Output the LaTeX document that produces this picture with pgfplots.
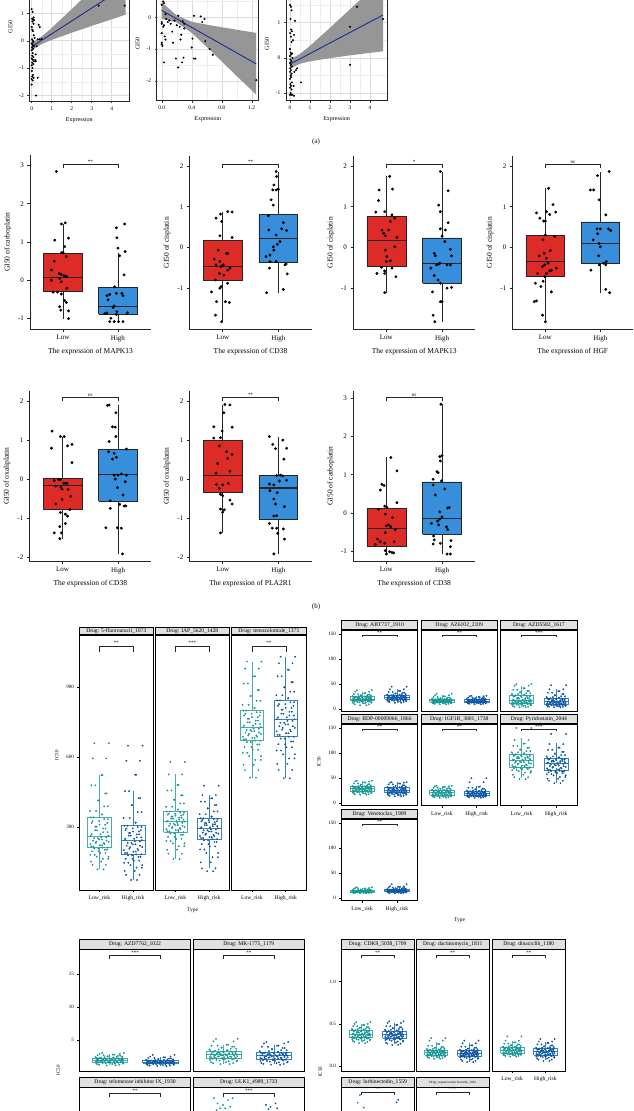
\documentclass[border=0pt]{standalone}
\usepackage{fontspec}
\setmainfont{Liberation Serif}
\usepackage{pgfplots}
\usepackage{pgfplotstable}
\pgfplotsset{compat=1.18}

\definecolor{bred}{RGB}{221,44,40}
\definecolor{bblue}{RGB}{55,142,218}
\definecolor{tealpt}{RGB}{24,152,150}
\definecolor{bluept}{RGB}{14,86,166}
\definecolor{tealbox}{RGB}{70,172,176}
\definecolor{bluebox}{RGB}{55,128,192}
\definecolor{stripbg}{RGB}{224,224,224}
\definecolor{regblue}{RGB}{25,45,150}
\definecolor{ribbon}{RGB}{150,150,150}

\pgfplotsset{
  base/.style={scale only axis, /pgf/number format/assume math mode=true, anchor=south west},
  pa/.style={base, tick align=outside, tick pos=left, major tick length=2pt,
    tick style={black!75, line width=0.4pt},
    axis line style={black!85, line width=0.7pt},
    grid=both, minor tick num=1, minor tick length=0pt,
    major grid style={black!14, line width=0.45pt}, minor grid style={black!7, line width=0.3pt},
    ticklabel style={font=\fontsize{5.5}{6}\selectfont},
    label style={font=\fontsize{6}{7}\selectfont},
    xlabel={Expression}, ylabel={GI50}},
  pb/.style={base, axis lines=left, axis line style={-, black!85, line width=0.6pt},
    xmin=0.4, xmax=2.6, xtick={1,2}, xticklabels={Low,High},
    tick align=outside, major tick length=2.5pt, tick style={black!85, line width=0.5pt},
    ticklabel style={font=\fontsize{7}{8}\selectfont},
    label style={font=\fontsize{7.5}{8.5}\selectfont},
    clip=false},
  strip/.style 2 args={every axis title/.style={at={(0.5,1)}, anchor=south, draw=black, line width=0.8pt, fill=stripbg, inner sep=0pt, minimum width=#1, minimum height=#2, font=\fontsize{5.6}{6}\selectfont}},
  fc/.style={base, xmin=0.4, xmax=2.6, xtick={1,2}, xticklabels={Low\_risk,High\_risk},
    axis line style={black, line width=0.8pt}, tick align=outside, tick pos=left,
    major tick length=2pt, tick style={black, line width=0.5pt},
    xticklabel style={font=\fontsize{5.6}{6}\selectfont},
    yticklabel style={font=\fontsize{5}{6}\selectfont},
    clip=false},
}

% box at position 1 / 2: fill, draw, lower whisker, q1, median, q3, upper whisker, median width
\newcommand{\boxA}[8]{%
  \addplot[#2, line width=0.6pt] coordinates {(1,#3)(1,#4)};
  \addplot[#2, line width=0.6pt] coordinates {(1,#6)(1,#7)};
  \addplot[fill=#1, draw=#2, line width=0.6pt] coordinates {(0.65,#4)(1.35,#4)(1.35,#6)(0.65,#6)(0.65,#4)};
  \addplot[#2, line width=#8] coordinates {(0.65,#5)(1.35,#5)};}
\newcommand{\boxB}[8]{%
  \addplot[#2, line width=0.6pt] coordinates {(2,#3)(2,#4)};
  \addplot[#2, line width=0.6pt] coordinates {(2,#6)(2,#7)};
  \addplot[fill=#1, draw=#2, line width=0.6pt] coordinates {(1.65,#4)(2.35,#4)(2.35,#6)(1.65,#6)(1.65,#4)};
  \addplot[#2, line width=#8] coordinates {(1.65,#5)(2.35,#5)};}
% jittered cloud: colour, jitter column A, jitter column B, position, value column, table
\newcommand{\jit}[6]{%
  \addplot[only marks, mark=*, mark size=0.7pt, color=#1] table[x expr=\thisrow{#2}+#4, y=#5] {#6};
  \addplot[only marks, mark=*, mark size=0.7pt, color=#1] table[x expr=\thisrow{#3}+#4, y=#5] {#6};}
\newcommand{\brk}[4]{\addplot[black!85, line width=0.45pt] coordinates {(1,#2)(1,#1)(2,#1)(2,#2)};
  \node[font=\fontsize{#4}{#4}\selectfont, anchor=south, inner sep=0.6pt] at (axis cs:1.5,#1) {#3};}
\newcommand{\bpts}{\addplot[only marks, mark=*, mark size=1.25pt, black] coordinates}

\pgfplotstableread{
j k fuL fuH iapL iapH temL temH
0.12 -0.06 120 74 164 112 513 510
-0.21 0.19 139 96 187 124 545 546
0.05 -0.25 153 113 204 150 568 572
0.26 0.10 165 127 219 172 589 595
-0.08 0.27 174 138 231 190 605 613
-0.27 -0.14 182 148 241 205 619 629
0.18 0.02 190 157 250 218 632 643
-0.02 -0.22 197 165 259 228 644 656
0.22 0.16 204 173 268 237 655 668
-0.15 -0.03 209 180 274 244 665 680
0.09 0.24 213 184 279 249 671 688
-0.24 -0.18 218 190 283 254 677 696
0.01 0.08 223 196 288 258 683 703
0.15 -0.27 228 202 292 263 688 711
-0.11 0.13 233 208 297 268 694 718
0.27 -0.09 238 215 301 273 700 726
-0.19 0.21 243 221 306 277 706 733
0.07 -0.01 248 227 310 282 712 741
-0.05 -0.16 253 233 315 287 717 748
0.20 0.05 258 239 319 291 723 756
-0.26 0.26 263 245 324 296 729 763
0.03 -0.23 271 251 328 300 736 771
0.24 0.11 279 257 333 305 743 779
-0.13 -0.07 287 264 337 309 750 787
0.11 0.18 295 270 341 313 757 795
-0.09 -0.12 303 276 346 318 765 804
0.17 0.00 311 282 350 322 772 812
-0.23 0.23 319 288 354 326 779 820
-0.01 -0.20 327 295 358 331 786 828
0.25 0.14 335 301 363 335 793 836
-0.17 -0.26 343 307 367 339 800 844
0.08 0.07 355 320 376 346 811 853
-0.28 -0.10 370 340 388 356 825 866
0.14 0.25 390 365 402 368 842 881
-0.04 -0.04 415 395 418 381 863 900
0.21 0.17 445 425 437 395 888 922
-0.12 -0.24 480 455 458 410 916 947
0.06 0.09 524 525 482 424 947 975
-0.20 0.20 595 585 527 438 980 1003
0.28 -0.15 660 650 580 478 1010 1031
}\tabC

\pgfplotstableread{
j k abtL abtH azL azH azdL azdH bdpL bdpH igfL igfH pyrL pyrH venL venH
0.12 -0.06 8 13 10 10 4 4 17 14 11 11 48 40 10 10
-0.21 0.19 10 14.5 11 11 5 5 18 15 12 12 52 45 10.6 10.7
0.05 -0.25 12 15.5 11.8 11.8 6.5 6 19.5 16.3 13 12.8 57 49 11 11.3
0.26 0.10 13 16.4 12.4 12.4 7.7 6.8 20.5 17.3 13.7 13.4 61 52.5 11.4 11.8
-0.08 0.27 14 17.1 12.9 12.9 8.7 7.5 21.3 18.1 14.2 13.8 64 55.5 11.7 12.1
-0.27 -0.14 14.6 17.7 13.3 13.3 9.5 8 22 18.8 14.7 14.1 66 58 11.9 12.4
0.18 0.02 15.2 18.2 13.6 13.6 10.2 8.5 22.6 19.4 15 14.4 68 60 12.1 12.6
-0.02 -0.22 15.8 18.8 13.9 13.9 10.8 9 23.1 19.9 15.3 14.6 69.5 61.8 12.2 12.75
0.22 0.16 16.3 19.3 14.1 14.1 11.3 9.4 23.5 20.3 15.6 14.8 70.5 63.2 12.3 12.85
-0.15 -0.03 16.7 19.7 14.3 14.3 11.7 9.7 23.8 20.7 15.8 14.9 71.3 64.2 12.4 12.95
0.09 0.24 17 20 14.5 14.5 12 10 24 21 16 15 72 65 12.5 13
-0.24 -0.18 17.4 20.4 14.75 14.7 12.6 10.5 24.5 21.5 16.5 15.5 73.4 66.5 12.65 13.2
0.01 0.08 17.7 20.8 15 14.9 13.2 11 25 22 17 16 74.8 68 12.8 13.4
0.15 -0.27 18.1 21.2 15.25 15.1 13.8 11.5 25.5 22.5 17.5 16.5 76.2 69.5 12.95 13.6
-0.11 0.13 18.4 21.6 15.5 15.3 14.4 12 26 23 18 17 77.6 71 13.1 13.8
0.27 -0.09 18.8 22 15.75 15.5 15 12.5 26.5 23.5 18.5 17.5 79 72.5 13.25 14
-0.19 0.21 19.1 22.4 16 15.7 15.6 13 27 24 19 18 80.4 74 13.4 14.2
0.07 -0.01 19.5 22.8 16.25 15.9 16.2 13.5 27.5 24.5 19.5 18.5 81.8 75.5 13.55 14.4
-0.05 -0.16 19.8 23.2 16.5 16.1 16.8 14 28 25 20 19 83.2 77 13.7 14.6
0.20 0.05 20.2 23.6 16.75 16.3 17.4 14.5 28.5 25.5 20.5 19.5 84.6 78.5 13.85 14.8
-0.26 0.26 20.5 24 17 16.5 18 15 29 26 21 20 86 80 14 15
0.03 -0.23 21 24.4 17.3 16.8 19 15.7 29.4 26.5 21.5 20.4 87.2 81 14.15 15.25
0.24 0.11 21.4 24.8 17.6 17.1 20 16.4 29.8 27 22 20.8 88.4 82 14.3 15.5
-0.13 -0.07 21.9 25.2 17.9 17.4 21 17.1 30.2 27.5 22.5 21.2 89.6 83 14.45 15.75
0.11 0.18 22.3 25.6 18.2 17.7 22 17.8 30.6 28 23 21.6 90.8 84 14.6 16
-0.09 -0.12 22.8 26 18.5 18 23 18.5 31 28.5 23.5 22 92 85 14.75 16.25
0.17 0.00 23.2 26.4 18.8 18.3 24 19.2 31.4 29 24 22.4 93.2 86 14.9 16.5
-0.23 0.23 23.7 26.8 19.1 18.6 25 19.9 31.8 29.5 24.5 22.8 94.4 87 15.05 16.75
-0.01 -0.20 24.1 27.2 19.4 18.9 26 20.6 32.2 30 25 23.2 95.6 88 15.2 17
0.25 0.14 24.6 27.6 19.7 19.2 27 21.3 32.6 30.5 25.5 23.6 96.8 89 15.35 17.25
-0.17 -0.26 25 28 20 19.5 28 22 33 31 26 24 98 90 15.5 17.5
0.08 0.07 25.5 28.6 20.4 19.9 29 23 33.6 31.6 26.5 24.6 99.5 91.5 15.8 17.9
-0.28 -0.10 26.2 29.4 21 20.4 30.5 24.5 34.4 32.4 27.2 25.4 101.5 93.5 16.2 18.4
0.14 0.25 27 30.4 21.7 21 32 26 35.4 33.4 28 26.4 104 96 16.7 19
-0.04 -0.04 28 31.6 22.5 21.7 34 28 36.6 34.6 29 27.6 107 99 17.3 19.7
0.21 0.17 29.2 33 23.4 22.5 36.5 30.5 38 36 30 29 110.5 102.5 18 20.5
-0.12 -0.24 30.5 34.6 24.5 23.4 39 33 39.6 37.6 31.2 31 114.5 106.5 18.8 21.5
0.06 0.09 32 36.5 26 24.5 42 36 41.5 39.4 32.5 33 119 111 19.5 22.7
-0.20 0.20 35 40 28 26 47 40 43.5 41 34 42 126 118 20.5 24
0.28 -0.15 38 45 31 27 50 48 45 42 35 50 150 138 22 28
}\tabR

\pgfplotstableread{
j k a7L a7H mkL mkH
0.12 -0.06 1.15 1.05 1.35 1.25
-0.21 0.19 1.25 1.12 1.5 1.38
0.05 -0.25 1.35 1.2 1.65 1.5
0.26 0.10 1.42 1.26 1.78 1.61
-0.08 0.27 1.48 1.31 1.9 1.71
-0.27 -0.14 1.53 1.35 2.0 1.8
0.18 0.02 1.57 1.39 2.08 1.88
-0.02 -0.22 1.61 1.42 2.15 1.95
0.22 0.16 1.64 1.45 2.21 2.01
-0.15 -0.03 1.67 1.48 2.26 2.06
0.09 0.24 1.7 1.5 2.3 2.1
-0.24 -0.18 1.73 1.52 2.35 2.16
0.01 0.08 1.76 1.54 2.4 2.21
0.15 -0.27 1.79 1.56 2.45 2.27
-0.11 0.13 1.82 1.58 2.5 2.32
0.27 -0.09 1.85 1.6 2.55 2.38
-0.19 0.21 1.88 1.62 2.6 2.43
0.07 -0.01 1.91 1.64 2.65 2.49
-0.05 -0.16 1.94 1.66 2.7 2.54
0.20 0.05 1.97 1.68 2.75 2.6
-0.26 0.26 2.0 1.7 2.8 2.65
0.03 -0.23 2.03 1.72 2.86 2.7
0.24 0.11 2.06 1.74 2.91 2.74
-0.13 -0.07 2.09 1.76 2.97 2.79
0.11 0.18 2.12 1.78 3.02 2.83
-0.09 -0.12 2.15 1.8 3.08 2.88
0.17 0.00 2.18 1.82 3.13 2.92
-0.23 0.23 2.21 1.84 3.19 2.97
-0.01 -0.20 2.24 1.86 3.24 3.01
0.25 0.14 2.27 1.88 3.3 3.06
-0.17 -0.26 2.3 1.9 3.35 3.1
0.08 0.07 2.35 1.95 3.45 3.2
-0.28 -0.10 2.4 2.0 3.57 3.32
0.14 0.25 2.47 2.06 3.7 3.46
-0.04 -0.04 2.54 2.13 3.85 3.62
0.21 0.17 2.62 2.2 4.0 3.8
-0.12 -0.24 2.7 2.28 4.15 3.98
0.06 0.09 2.8 2.38 4.3 4.15
-0.20 0.20 2.9 2.5 4.8 4.5
0.28 -0.15 3.05 2.75 5.2 4.7
}\tabDL

\pgfplotstableread{
j k cdkL cdkH dacL dacH dinL dinH
0.12 -0.06 0.27 0.25 0.085 0.045 0.11 0.06
-0.21 0.19 0.285 0.265 0.095 0.06 0.12 0.075
0.05 -0.25 0.297 0.278 0.103 0.075 0.127 0.088
0.26 0.10 0.306 0.29 0.109 0.086 0.132 0.098
-0.08 0.27 0.313 0.3 0.114 0.095 0.136 0.106
-0.27 -0.14 0.319 0.308 0.118 0.102 0.139 0.112
0.18 0.02 0.324 0.314 0.121 0.107 0.142 0.117
-0.02 -0.22 0.328 0.319 0.124 0.111 0.144 0.121
0.22 0.16 0.331 0.323 0.126 0.114 0.146 0.124
-0.15 -0.03 0.334 0.327 0.128 0.117 0.148 0.127
0.09 0.24 0.336 0.33 0.13 0.12 0.15 0.13
-0.24 -0.18 0.34 0.334 0.134 0.123 0.154 0.134
0.01 0.08 0.345 0.338 0.137 0.126 0.158 0.138
0.15 -0.27 0.349 0.342 0.141 0.129 0.162 0.142
-0.11 0.13 0.354 0.346 0.144 0.132 0.166 0.146
0.27 -0.09 0.358 0.35 0.148 0.135 0.17 0.15
-0.19 0.21 0.362 0.354 0.151 0.138 0.174 0.154
0.07 -0.01 0.367 0.358 0.155 0.141 0.178 0.158
-0.05 -0.16 0.371 0.362 0.158 0.144 0.182 0.162
0.20 0.05 0.376 0.366 0.162 0.147 0.186 0.166
-0.26 0.26 0.38 0.37 0.165 0.15 0.19 0.17
0.03 -0.23 0.385 0.375 0.168 0.153 0.193 0.174
0.24 0.11 0.389 0.379 0.17 0.156 0.196 0.177
-0.13 -0.07 0.394 0.384 0.173 0.159 0.199 0.181
0.11 0.18 0.399 0.388 0.175 0.162 0.202 0.184
-0.09 -0.12 0.403 0.393 0.178 0.165 0.205 0.188
0.17 0.00 0.408 0.397 0.18 0.168 0.208 0.191
-0.23 0.23 0.413 0.402 0.183 0.171 0.211 0.195
-0.01 -0.20 0.418 0.406 0.185 0.174 0.214 0.198
0.25 0.14 0.422 0.411 0.188 0.177 0.217 0.202
-0.17 -0.26 0.427 0.415 0.19 0.18 0.22 0.205
0.08 0.07 0.432 0.421 0.195 0.185 0.225 0.21
-0.28 -0.10 0.438 0.429 0.201 0.191 0.231 0.216
0.14 0.25 0.445 0.438 0.208 0.198 0.238 0.223
-0.04 -0.04 0.453 0.448 0.216 0.206 0.246 0.232
0.21 0.17 0.462 0.459 0.226 0.216 0.255 0.243
-0.12 -0.24 0.472 0.472 0.24 0.228 0.266 0.256
0.06 0.09 0.485 0.488 0.26 0.245 0.28 0.272
-0.20 0.20 0.5 0.51 0.3 0.27 0.3 0.29
0.28 -0.15 0.52 0.53 0.33 0.3 0.35 0.32
}\tabDR

\begin{document}
\begin{tikzpicture}
\useasboundingbox (0,0) rectangle (633pt,-1111pt);
\clip (0,0) rectangle (633pt,-1111pt);
\fill[white] (0,0) rectangle (633pt,-1111pt);

% ================= (a) =================
\begin{axis}[pa, at={(29.3pt,-101pt)}, width=100pt, height=148pt, xmin=-0.12, xmax=4.88, ymin=-2.2, ymax=3.2, xtick={0,1,2,3,4}, ytick={-2,-1,0,1,2,3}, yticklabels={-2,-1,0,1,{},{}}]
\addplot[fill=ribbon, draw=none] coordinates {(0,-0.35)(0.5,-0.12)(1,0.03)(2,0.29)(3,0.54)(4,0.78)(4.7,0.95)(4.7,3.03)(4,2.54)(3,1.85)(2,1.15)(1,0.47)(0.5,0.15)(0,-0.09)};
\addplot[only marks, mark=*, mark size=0.8pt, black] coordinates {(0.0,1.15)(0.05,1.05)(0.1,0.85)(0.02,0.8)(0.07,0.78)(0.12,0.75)(0.04,0.7)(0.09,0.62)(0.0,0.5)(0.03,0.4)(0.06,0.35)(0.1,0.2)(0.02,0.05)(0.05,0.0)(0.08,-0.05)(0.0,-0.1)(0.04,-0.15)(0.11,-0.2)(0.02,-0.25)(0.07,-0.3)(0.0,-0.35)(0.05,-0.45)(0.03,-0.55)(0.09,-0.6)(0.0,-0.65)(0.06,-0.7)(0.12,-0.75)(0.02,-0.8)(0.08,-0.85)(0.0,-0.9)(0.04,-1.0)(0.01,-1.1)(0.06,-1.25)(0.03,-1.3)(0.09,-1.35)(0.0,-1.4)(0.05,-1.45)(0.0,-1.6)(0.22,-2.0)(0.35,0.58)(0.4,0.5)(0.3,0.05)(0.4,0.05)(0.5,0.07)(0.3,-1.35)(0.2,-0.5)(0.25,-0.2)(0.15,0.1)(0.18,-0.7)(0.2,-0.75)(3.35,1.28)(4.65,1.28)};
\addplot[regblue, line width=0.9pt] coordinates {(0,-0.22)(4.7,1.99)};
\end{axis}

\begin{axis}[pa, at={(156.7pt,-100.7pt)}, width=102pt, height=115pt, xmin=-0.067, xmax=1.293, ymin=-2.63, ymax=1.0, xtick={0,0.4,0.8,1.2}, ytick={-2,-1,0,1}, yticklabels={-2,-1,0,{}}, xticklabel style={/pgf/number format/.cd, fixed, fixed zerofill, precision=1}]
\addplot[fill=ribbon, draw=none] coordinates {(0,-0.04)(0.2,-0.16)(0.4,-0.49)(0.6,-0.93)(0.8,-1.39)(1.0,-1.85)(1.26,-2.44)(1.26,-0.49)(1.0,-0.39)(0.8,-0.31)(0.6,-0.23)(0.4,-0.14)(0.2,0.06)(0,0.48)};
\addplot[only marks, mark=*, mark size=0.8pt, black] coordinates {(0.0,0.4)(0.02,0.5)(0.03,0.45)(0.0,-0.15)(0.0,-0.2)(0.0,-0.5)(0.0,-0.8)(0.0,-0.85)(0.01,-0.9)(0.02,-0.3)(0.03,-0.25)(0.04,-0.6)(0.05,-0.7)(0.03,-1.42)(0.05,0.1)(0.06,-0.05)(0.08,-0.15)(0.1,-0.1)(0.12,-0.2)(0.14,-0.45)(0.15,-0.8)(0.17,-0.1)(0.2,-0.25)(0.22,0.05)(0.24,-0.3)(0.25,-0.7)(0.26,-0.55)(0.28,-0.12)(0.3,-0.2)(0.3,-0.35)(0.19,-1.3)(0.22,-1.58)(0.27,-1.42)(0.29,-1.27)(0.4,-0.95)(0.41,-0.67)(0.43,0.05)(0.43,-1.3)(0.45,-1.3)(0.52,0.03)(0.54,-0.15)(0.57,-0.05)(0.58,-0.75)(0.64,-1.0)(0.68,-1.18)(1.26,-1.98)};
\addplot[regblue, line width=0.9pt] coordinates {(0,0.22)(1.26,-1.468)};
\end{axis}

\begin{axis}[pa, at={(286pt,-100.7pt)}, width=101.3pt, height=113.3pt, xmin=-0.2, xmax=4.865, ymin=-1.22, ymax=2.0, xtick={0,1,2,3,4}, ytick={-1,0,1,2}, yticklabels={-1,0,1,{}}]
\addplot[fill=ribbon, draw=none] coordinates {(0,-0.31)(0.5,-0.17)(1,-0.10)(2,-0.01)(3,0.07)(4,0.14)(4.65,0.185)(4.65,2.25)(4,1.90)(3,1.38)(2,0.85)(1,0.34)(0.5,0.11)(0,-0.05)};
\addplot[only marks, mark=*, mark size=0.8pt, black] coordinates {(0.0,1.5)(0.05,1.45)(0.08,1.35)(0.02,1.1)(0.06,0.8)(0.1,0.75)(0.0,0.7)(0.04,0.6)(0.08,0.45)(0.0,0.25)(0.03,0.15)(0.1,0.12)(0.06,0.1)(0.0,0.05)(0.12,0.0)(0.02,-0.05)(0.07,-0.1)(0.0,-0.15)(0.04,-0.2)(0.09,-0.25)(0.01,-0.3)(0.05,-0.35)(0.0,-0.4)(0.08,-0.45)(0.03,-0.5)(0.06,-0.55)(0.0,-0.6)(0.1,-0.7)(0.02,-0.75)(0.05,-0.8)(0.0,-0.85)(0.08,-0.9)(0.03,-1.0)(0.0,-1.05)(0.06,-1.05)(0.1,-1.05)(0.25,1.05)(0.2,0.65)(0.15,0.5)(0.22,-0.4)(0.3,-0.35)(0.35,-0.3)(0.55,-0.7)(0.18,-0.8)(0.2,-1.08)(3.0,0.88)(3.0,-0.2)(3.35,1.45)(4.65,1.1)};
\addplot[regblue, line width=0.9pt] coordinates {(0,-0.18)(4.65,1.215)};
\end{axis}

\node[font=\fontsize{7}{8}\selectfont] at (316pt,-142pt) {(a)};

% ================= (b) row 1 =================
\begin{axis}[pb, at={(30pt,-329.3pt)}, width=121pt, height=174.2pt, ymin=-1.28, ymax=3.27, ytick={-1,0,1,2,3}, ylabel={GI50 of carboplatin}, xlabel={The expression of MAPK13}]
\boxA{bred}{black!85}{-1.0}{-0.3}{0.08}{0.71}{1.47}{1.3pt}
\boxB{bblue}{black!85}{-1.08}{-0.88}{-0.68}{-0.18}{0.7}{1.3pt}
\bpts {(0.88,2.84)(1.04,1.5)(0.97,1.47)(1.10,1.10)(0.85,1.05)(1.03,0.88)(0.97,0.72)(1.0,0.72)(1.06,0.62)(0.84,0.5)(0.79,0.27)(0.93,0.18)(0.97,0.15)(1.02,0.12)(1.06,0.1)(0.94,0.05)(0.97,-0.04)(1.07,-0.21)(0.79,0.0)(0.82,-0.31)(0.9,-0.31)(0.97,-0.36)(1.03,-0.53)(1.06,-0.58)(0.94,-0.69)(0.96,-0.78)(1.1,-0.8)(1.1,-1.0)};
\bpts {(2.12,1.47)(1.97,1.37)(1.98,1.11)(2.0,0.84)(2.13,0.75)(2.03,0.64)(2.11,0.14)(1.94,-0.17)(1.97,-0.34)(2.07,-0.34)(1.8,-0.4)(2.09,-0.4)(1.85,-0.37)(1.93,-0.67)(1.91,-0.71)(1.8,-0.85)(2.17,-0.85)(1.97,-0.89)(1.87,-0.99)(1.93,-1.08)(2.01,-1.08)(1.85,-1.08)(2.09,-1.08)(1.76,-0.87)(1.82,-0.51)(1.98,-0.82)};
\brk{3.03}{2.93}{**}{5}
\end{axis}

\begin{axis}[pb, at={(189.3pt,-329.3pt)}, width=122.4pt, height=173.3pt, ymin=-1.995, ymax=2.24, ytick={-1,0,1,2}, ylabel={GI50 of cisplatin}, xlabel={The expression of CD38}]
\boxA{bred}{black!85}{-1.81}{-0.79}{-0.46}{0.18}{0.87}{1.3pt}
\boxB{bblue}{black!85}{-1.1}{-0.36}{0.23}{0.82}{1.86}{1.3pt}
\bpts {(1.09,0.88)(1.17,0.87)(0.96,0.82)(0.88,0.72)(0.98,0.64)(0.95,0.29)(1.17,0.25)(0.92,-0.06)(1.07,-0.14)(0.85,-0.28)(0.95,-0.34)(1.09,-0.14)(0.88,-0.42)(0.97,-0.46)(1.01,-0.42)(1.09,-0.55)(1.13,-0.5)(0.94,-0.63)(1.02,-0.67)(0.87,-0.79)(1.09,-0.87)(0.97,-0.95)(0.8,-1.08)(0.95,-0.99)(0.89,-1.32)(1.05,-1.32)(1.12,-1.34)(0.87,-1.65)(0.98,-1.81)};
\bpts {(1.96,1.86)(1.97,1.74)(1.92,1.53)(1.9,1.41)(1.96,1.41)(2.0,1.43)(1.87,1.17)(1.91,1.04)(1.82,0.78)(2.09,0.61)(1.83,0.43)(2.06,0.46)(2.15,0.42)(1.96,0.31)(2.03,0.15)(1.98,0.08)(1.91,0.02)(1.92,-0.06)(1.85,-0.18)(1.78,-0.22)(1.85,-0.34)(1.96,-0.34)(2.12,-0.42)(2.16,-0.64)(1.84,-0.5)(2.09,-1.02)(1.79,-1.1)(2.14,-0.4)};
\brk{2.04}{1.94}{**}{5}
\end{axis}

\begin{axis}[pb, at={(353pt,-329.3pt)}, width=122.4pt, height=173.3pt, ymin=-1.995, ymax=2.24, ytick={-1,0,1,2}, ylabel={GI50 of cisplatin}, xlabel={The expression of MAPK13}]
\boxA{bred}{black!85}{-1.1}{-0.46}{0.17}{0.77}{1.74}{1.3pt}
\boxB{bblue}{black!85}{-1.81}{-0.86}{-0.38}{0.24}{1.86}{1.3pt}
\bpts {(1.06,1.74)(1.11,1.43)(0.87,1.41)(0.86,1.15)(0.81,0.87)(0.97,0.88)(1.1,0.8)(1.15,0.72)(1.07,0.64)(0.92,0.43)(1.04,0.43)(0.98,0.29)(1.19,0.25)(0.95,0.35)(1.15,0.02)(0.98,-0.06)(1.01,-0.22)(1.07,-0.32)(1.0,-0.34)(0.91,-0.48)(1.1,-0.5)(0.83,-0.63)(0.97,-0.63)(0.97,-0.57)(1.17,-0.71)(0.97,-1.1)};
\bpts {(1.97,1.86)(2.11,1.39)(1.94,1.04)(1.97,0.88)(2.11,0.61)(2.06,0.43)(1.97,0.46)(2.0,0.28)(2.05,0.15)(2.15,-0.04)(1.86,-0.14)(1.88,-0.2)(2.17,-0.2)(1.94,-0.4)(1.9,-0.42)(2.09,-0.42)(2.15,-0.42)(1.96,-0.38)(1.8,-0.5)(1.86,-0.68)(1.93,-0.79)(1.97,-0.87)(2.09,-0.99)(2.17,-0.97)(1.83,-1.08)(1.97,-1.32)(2.0,-1.32)(1.84,-1.65)(1.87,-1.81)};
\brk{2.04}{1.94}{*}{5}
\end{axis}

\begin{axis}[pb, at={(512.3pt,-329.3pt)}, width=121pt, height=173.3pt, ymin=-1.995, ymax=2.24, ytick={-1,0,1,2}, ylabel={GI50 of cisplatin}, xlabel={The expression of HGF}]
\boxA{bred}{black!85}{-1.81}{-0.69}{-0.33}{0.3}{1.45}{1.3pt}
\boxB{bblue}{black!85}{-1.1}{-0.39}{0.1}{0.63}{1.86}{1.3pt}
\bpts {(1.06,1.45)(1.14,1.05)(1.02,0.88)(1.19,0.87)(0.84,0.85)(1.08,0.81)(0.9,0.72)(0.97,0.65)(1.0,0.65)(1.0,0.31)(1.17,0.27)(0.96,0.19)(1.09,-0.07)(0.98,-0.14)(0.89,-0.2)(1.02,-0.26)(0.99,-0.42)(1.05,-0.38)(0.95,-0.46)(1.2,-0.5)(1.11,-0.55)(0.86,-0.63)(1.02,-0.63)(1.08,-0.57)(0.99,-0.71)(0.96,-0.82)(0.82,-0.87)(0.92,-0.95)(1.11,-1.08)(0.8,-1.32)(0.84,-1.3)(0.95,-1.65)(1.0,-1.81)};
\bpts {(2.16,1.86)(1.95,1.76)(1.82,1.41)(1.88,1.41)(1.98,1.17)(2.1,0.8)(1.94,0.46)(2.0,0.46)(2.15,0.46)(2.19,0.42)(1.95,0.34)(1.87,0.19)(1.98,0.1)(2.0,0.02)(1.97,-0.2)(2.06,-0.38)(2.11,-0.34)(2.1,-0.42)(1.98,-0.42)(1.83,-0.55)(2.1,-1.02)(2.17,-1.1)};
\brk{2.04}{1.94}{ns}{5}
\end{axis}

% ================= (b) row 2 =================
\begin{axis}[pb, at={(29.3pt,-561.3pt)}, width=122pt, height=170.4pt, ymin=-2.11, ymax=2.26, ytick={-2,-1,0,1,2}, ylabel={GI50 of oxaliplatin}, xlabel={The expression of CD38}]
\boxA{bred}{black!85}{-1.53}{-0.77}{-0.16}{0.02}{1.09}{1.3pt}
\boxB{bblue}{black!85}{-1.92}{-0.56}{0.12}{0.76}{1.9}{1.3pt}
\bpts {(0.81,1.23)(0.96,1.09)(1.03,1.09)(0.8,0.79)(1.09,0.85)(1.17,0.89)(1.17,0.42)(0.85,-0.04)(0.93,-0.01)(0.96,-0.02)(1.02,-0.11)(1.06,-0.11)(1.08,-0.11)(0.88,-0.18)(0.97,-0.21)(0.99,-0.26)(1.1,-0.27)(1.15,-0.44)(0.88,-0.64)(0.99,-0.52)(1.13,-0.78)(0.96,-0.86)(1.05,-0.9)(1.09,-0.95)(1.05,-1.14)(0.95,-1.22)(0.85,-1.38)(0.98,-1.38)(0.95,-1.53)};
\bpts {(1.84,1.9)(1.81,1.89)(1.96,1.7)(1.9,1.34)(1.95,1.33)(1.96,1.09)(1.84,0.96)(1.83,0.7)(1.93,0.66)(2.15,0.77)(1.9,0.51)(1.97,0.56)(1.93,0.1)(2.0,0.1)(2.06,0.13)(2.15,0.1)(1.95,0.0)(2.13,-0.07)(1.99,-0.22)(2.09,-0.41)(1.86,-0.56)(2.03,-0.65)(2.11,-0.69)(2.14,-0.69)(1.86,-0.75)(1.78,-1.25)(1.99,-1.25)(2.06,-1.26)(2.08,-1.92)};
\brk{2.1}{2.0}{ns}{5}
\end{axis}

\begin{axis}[pb, at={(189.3pt,-561.3pt)}, width=122.4pt, height=170.4pt, ymin=-2.11, ymax=2.26, ytick={-2,-1,0,1,2}, ylabel={GI50 of oxaliplatin}, xlabel={The expression of PLA2R1}]
\boxA{bred}{black!85}{-1.38}{-0.35}{0.09}{1.0}{1.91}{1.3pt}
\boxB{bblue}{black!85}{-1.92}{-1.03}{-0.23}{0.09}{1.09}{1.3pt}
\bpts {(1.04,1.91)(1.13,1.9)(1.02,1.7)(0.84,1.34)(1.17,1.33)(0.99,1.23)(0.96,1.06)(0.84,1.05)(0.94,0.85)(1.07,0.7)(1.17,0.63)(1.09,0.53)(0.91,0.4)(0.88,0.15)(1.13,0.2)(0.89,-0.14)(1.0,-0.15)(0.94,-0.24)(1.1,-0.11)(0.96,-0.39)(1.0,-0.43)(1.13,-0.54)(1.17,-0.64)(0.96,-0.77)(1.03,-0.79)(1.0,-0.85)(0.96,-1.38)};
\bpts {(1.84,1.09)(2.08,1.0)(1.9,0.89)(2.15,0.79)(1.95,0.78)(2.1,0.51)(1.84,-0.13)(2.04,0.1)(1.97,0.09)(2.08,0.08)(2.15,-0.03)(2.02,-0.05)(1.92,-0.15)(1.98,-0.35)(1.85,-0.3)(1.92,-0.51)(2.11,-0.71)(1.95,-0.64)(1.92,-0.95)(1.97,-0.94)(1.84,-1.14)(1.89,-1.26)(1.97,-1.26)(2.09,-1.28)(1.99,-1.39)(2.11,-1.54)(1.92,-1.92)};
\brk{2.1}{2.0}{**}{5}
\end{axis}

\begin{axis}[pb, at={(353pt,-561.3pt)}, width=122.4pt, height=170.5pt, ymin=-1.26, ymax=3.19, ytick={-1,0,1,2,3}, ylabel={GI50 of carboplatin}, xlabel={The expression of CD38}]
\boxA{bred}{black!85}{-1.07}{-0.87}{-0.41}{0.12}{1.45}{1.3pt}
\boxB{bblue}{black!85}{-1.07}{-0.56}{-0.14}{0.81}{2.84}{1.3pt}
\bpts {(1.08,1.45)(1.19,1.1)(0.92,0.75)(0.96,0.72)(0.89,0.6)(1.19,0.27)(0.97,0.18)(1.01,0.15)(0.86,0.1)(0.98,-0.03)(1.11,-0.12)(1.04,-0.31)(1.0,-0.33)(1.08,-0.36)(1.16,-0.43)(0.98,-0.51)(0.84,-0.68)(0.89,-0.75)(1.14,-0.75)(0.97,-0.79)(0.8,-0.82)(0.98,-0.98)(1.06,-1.01)(1.13,-1.04)(1.0,-1.07)(1.1,-1.03)};
\bpts {(1.98,2.84)(1.96,1.47)(2.0,1.5)(1.97,1.36)(1.91,1.08)(1.93,1.05)(1.84,0.88)(1.99,0.84)(1.84,0.73)(2.05,0.63)(1.88,0.47)(2.13,0.14)(2.1,0.13)(1.96,0.03)(2.0,-0.1)(1.96,-0.16)(1.92,-0.21)(1.81,-0.27)(1.94,-0.31)(2.08,-0.36)(2.1,-0.43)(1.85,-0.6)(1.86,-0.7)(2.16,-0.72)(1.84,-0.81)(1.97,-0.79)(2.15,-0.88)(2.09,-1.07)(2.15,-1.07)};
\brk{3.02}{2.92}{ns}{5}
\end{axis}

\node[font=\fontsize{7}{8}\selectfont] at (316pt,-607pt) {(b)};

% ================= (c) left =================
\begin{axis}[fc, strip={74pt}{7.3pt}, at={(79.3pt,-890.3pt)}, width=74pt, height=255.3pt, ymin=30, ymax=1124, ytick={300,600,900}, title={Drug: 5-fluorouracil\_1073}]
\boxA{white}{tealbox}{120}{213}{263}{343}{524}{0.6pt}
\boxB{white}{bluebox}{74}{184}{245}{307}{455}{0.6pt}
\jit{tealpt}{j}{k}{1}{fuL}{\tabC}
\jit{bluept}{k}{j}{2}{fuH}{\tabC}
\brk{1078}{1050}{**}{5}
\end{axis}
\begin{axis}[fc, strip={74pt}{7.3pt}, at={(155.3pt,-890.3pt)}, width=74pt, height=255.3pt, ymin=30, ymax=1124, ytick=\empty, title={Drug: IAP\_5620\_1428}]
\boxA{white}{tealbox}{164}{279}{324}{367}{527}{0.6pt}
\boxB{white}{bluebox}{124}{249}{296}{339}{438}{0.6pt}
\jit{tealpt}{j}{k}{1}{iapL}{\tabC}
\jit{bluept}{k}{j}{2}{iapH}{\tabC}
\brk{1078}{1050}{***}{5}
\end{axis}
\begin{axis}[fc, strip={74.3pt}{7.3pt}, at={(231.7pt,-890.3pt)}, width=74.3pt, height=255.3pt, ymin=30, ymax=1124, ytick=\empty, title={Drug: temozolomide\_1375}]
\boxA{white}{tealbox}{513}{671}{729}{800}{1010}{0.6pt}
\boxB{white}{bluebox}{510}{688}{763}{844}{1031}{0.6pt}
\jit{tealpt}{j}{k}{1}{temL}{\tabC}
\jit{bluept}{k}{j}{2}{temH}{\tabC}
\brk{1078}{1050}{**}{5}
\end{axis}
\node[rotate=90, font=\fontsize{5}{6}\selectfont] at (56.7pt,-755pt) {IC50};
\node[font=\fontsize{5.5}{6}\selectfont] at (192.7pt,-910pt) {Type};

% ================= (c) right =================
\begin{axis}[fc, strip={76.5pt}{9.3pt}, at={(341.3pt,-711.7pt)}, width=76.5pt, height=81.7pt, ymin=-4.8, ymax=158, ytick={0,50,100,150}, xtick=\empty, title={Drug: ABT737\_1910}]
\boxA{white}{tealbox}{10}{17}{20.5}{25}{35}{0.6pt}
\boxB{white}{bluebox}{13}{20}{24}{28}{40}{0.6pt}
\jit{tealpt}{j}{k}{1}{abtL}{\tabR}
\jit{bluept}{k}{j}{2}{abtH}{\tabR}
\brk{148}{144}{**}{5}
\end{axis}
\begin{axis}[fc, strip={76.5pt}{9.3pt}, at={(421pt,-711.7pt)}, width=76.5pt, height=81.7pt, ymin=-4.8, ymax=158, ytick=\empty, xtick=\empty, title={Drug: AZ6102\_2109}]
\boxA{white}{tealbox}{10}{14.5}{17}{20}{28}{0.6pt}
\boxB{white}{bluebox}{10}{14.5}{16.5}{19.5}{26}{0.6pt}
\jit{tealpt}{j}{k}{1}{azL}{\tabR}
\jit{bluept}{k}{j}{2}{azH}{\tabR}
\brk{148}{144}{**}{5}
\end{axis}
\begin{axis}[fc, strip={76.5pt}{9.3pt}, at={(500.7pt,-711.7pt)}, width=76.5pt, height=81.7pt, ymin=-4.8, ymax=158, ytick=\empty, xtick=\empty, title={Drug: AZD5582\_1617}]
\boxA{white}{tealbox}{5}{12}{18}{28}{47}{0.6pt}
\boxB{white}{bluebox}{5}{10}{15}{22}{40}{0.6pt}
\jit{tealpt}{j}{k}{1}{azdL}{\tabR}
\jit{bluept}{k}{j}{2}{azdH}{\tabR}
\brk{148}{144}{***}{5}
\end{axis}
\begin{axis}[fc, strip={76.5pt}{9.3pt}, at={(341.3pt,-805.7pt)}, width=76.5pt, height=81.7pt, ymin=-4.8, ymax=158, ytick={0,50,100,150}, xtick=\empty, title={Drug: BDP-00009066\_1866}]
\boxA{white}{tealbox}{18}{24}{29}{33}{45}{0.6pt}
\boxB{white}{bluebox}{15}{21}{26}{31}{42}{0.6pt}
\jit{tealpt}{j}{k}{1}{bdpL}{\tabR}
\jit{bluept}{k}{j}{2}{bdpH}{\tabR}
\brk{148}{144}{**}{5}
\end{axis}
\begin{axis}[fc, strip={76.5pt}{9.3pt}, at={(421pt,-805.7pt)}, width=76.5pt, height=81.7pt, ymin=-4.8, ymax=158, ytick=\empty, title={Drug: IGF1R\_3801\_1738}]
\boxA{white}{tealbox}{12}{16}{21}{26}{35}{0.6pt}
\boxB{white}{bluebox}{12}{15}{20}{24}{35}{0.6pt}
\jit{tealpt}{j}{k}{1}{igfL}{\tabR}
\jit{bluept}{k}{j}{2}{igfH}{\tabR}
\brk{148}{144}{**}{5}
\end{axis}
\begin{axis}[fc, strip={76.5pt}{9.3pt}, at={(500.7pt,-805.7pt)}, width=76.5pt, height=81.7pt, ymin=-4.8, ymax=158, ytick=\empty, title={Drug: Pyridostatin\_2044}]
\boxA{white}{tealbox}{50}{72}{86}{98}{130}{0.6pt}
\boxB{white}{bluebox}{40}{65}{80}{90}{120}{0.6pt}
\jit{tealpt}{j}{k}{1}{pyrL}{\tabR}
\jit{bluept}{k}{j}{2}{pyrH}{\tabR}
\brk{148}{144}{***}{5}
\end{axis}
\begin{axis}[fc, strip={76.5pt}{9.3pt}, at={(341.3pt,-900.7pt)}, width=76.5pt, height=81.7pt, ymin=-4.8, ymax=158, ytick={0,50,100,150}, title={Drug: Venetoclax\_1909}]
\boxA{white}{tealbox}{10}{12.5}{14}{15.5}{20}{0.6pt}
\boxB{white}{bluebox}{10}{13}{15}{17.5}{24}{0.6pt}
\jit{tealpt}{j}{k}{1}{venL}{\tabR}
\jit{bluept}{k}{j}{2}{venH}{\tabR}
\brk{148}{144}{**}{5}
\end{axis}
\node[rotate=90, font=\fontsize{5}{6}\selectfont] at (319pt,-761.7pt) {IC50};
\node[font=\fontsize{5.5}{6}\selectfont] at (459.7pt,-920pt) {Type};

% ================= (d) left =================
\begin{axis}[fc, strip={111.5pt}{10pt}, at={(79.3pt,-1071pt)}, width=111.5pt, height=121.7pt, ymin=0.3, ymax=18.8, ytick={5,10,15}, xtick=\empty, title={Drug: AZD7762\_1022}]
\boxA{white}{tealbox}{1.2}{1.7}{2.0}{2.3}{2.9}{0.6pt}
\boxB{white}{bluebox}{1.1}{1.5}{1.7}{1.9}{2.5}{0.6pt}
\jit{tealpt}{j}{k}{1}{a7L}{\tabDL}
\jit{bluept}{k}{j}{2}{a7H}{\tabDL}
\brk{17.9}{17.4}{***}{5}
\end{axis}
\begin{axis}[fc, strip={111pt}{10pt}, at={(193.3pt,-1071pt)}, width=111pt, height=121.7pt, ymin=0.3, ymax=18.8, ytick=\empty, xtick=\empty, title={Drug: MK-1775\_1179}]
\boxA{white}{tealbox}{1.4}{2.3}{2.8}{3.35}{4.3}{0.6pt}
\boxB{white}{bluebox}{1.3}{2.1}{2.65}{3.1}{4.3}{0.6pt}
\jit{tealpt}{j}{k}{1}{mkL}{\tabDL}
\jit{bluept}{k}{j}{2}{mkH}{\tabDL}
\brk{17.9}{17.4}{**}{5}
\end{axis}
\begin{axis}[fc, strip={111.5pt}{10pt}, at={(79.3pt,-1209.4pt)}, width=111.5pt, height=121.7pt, ymin=0, ymax=25.5, ytick=\empty, xtick=\empty, title={Drug: telomerase inhibitor IX\_1930}]
\brk{24.3}{23.6}{**}{5}
\end{axis}
\begin{axis}[fc, strip={111pt}{10pt}, at={(193.3pt,-1209.4pt)}, width=111pt, height=121.7pt, ymin=0, ymax=25.5, ytick=\empty, xtick=\empty, title={Drug: ULK1\_4989\_1733}]
\addplot[only marks, mark=*, mark size=0.7pt, tealpt] coordinates {(0.81,23.3)(0.88,22.2)(0.99,21.9)(1.09,22.9)(1.18,23.3)(1.03,21.2)(0.93,21.2)(0.86,20.8)(1.13,21.5)};
\addplot[only marks, mark=*, mark size=0.7pt, bluept] coordinates {(1.84,21.9)(1.93,21.5)(2.03,22.2)(2.06,21.2)(1.89,21.0)};
\brk{24.3}{23.6}{***}{5}
\end{axis}
\node[rotate=90, font=\fontsize{5}{6}\selectfont] at (58.3pt,-1070pt) {IC50};

% ================= (d) right =================
\begin{axis}[fc, strip={72.8pt}{10pt}, at={(341.3pt,-1071pt)}, width=72.8pt, height=121.7pt, ymin=-0.06, ymax=1.384, ytick={0,0.5,1}, yticklabel style={/pgf/number format/.cd, fixed, fixed zerofill, precision=1}, xtick=\empty, title={Drug: CDK9\_5038\_1709}]
\boxA{white}{tealbox}{0.28}{0.336}{0.38}{0.427}{0.5}{0.6pt}
\boxB{white}{bluebox}{0.26}{0.33}{0.37}{0.415}{0.51}{0.6pt}
\jit{tealpt}{j}{k}{1}{cdkL}{\tabDR}
\jit{bluept}{k}{j}{2}{cdkH}{\tabDR}
\brk{1.317}{1.277}{**}{5}
\end{axis}
\begin{axis}[fc, strip={72.8pt}{10pt}, at={(416.3pt,-1071pt)}, width=72.8pt, height=121.7pt, ymin=-0.06, ymax=1.384, ytick=\empty, xtick=\empty, title={Drug: dactinomycin\_1811}]
\boxA{white}{tealbox}{0.09}{0.13}{0.165}{0.19}{0.28}{0.6pt}
\boxB{white}{bluebox}{0.05}{0.12}{0.15}{0.18}{0.27}{0.6pt}
\jit{tealpt}{j}{k}{1}{dacL}{\tabDR}
\jit{bluept}{k}{j}{2}{dacH}{\tabDR}
\brk{1.317}{1.277}{**}{5}
\end{axis}
\begin{axis}[fc, strip={73pt}{10pt}, at={(492.3pt,-1071pt)}, width=73pt, height=121.7pt, ymin=-0.06, ymax=1.384, ytick=\empty, title={Drug: dinaciclib\_1180}]
\boxA{white}{tealbox}{0.12}{0.15}{0.19}{0.22}{0.3}{0.6pt}
\boxB{white}{bluebox}{0.07}{0.13}{0.17}{0.205}{0.29}{0.6pt}
\jit{tealpt}{j}{k}{1}{dinL}{\tabDR}
\jit{bluept}{k}{j}{2}{dinH}{\tabDR}
\brk{1.317}{1.277}{**}{5}
\end{axis}
\begin{axis}[fc, strip={72.8pt}{10pt}, at={(341.3pt,-1209.4pt)}, width=72.8pt, height=121.7pt, ymin=0, ymax=3, ytick=\empty, xtick=\empty, title={Drug: lurbinectedin\_1559}]
\addplot[only marks, mark=*, mark size=0.7pt, tealpt] coordinates {(0.96,2.82)(0.89,2.63)(1.08,2.51)};
\addplot[only marks, mark=*, mark size=0.7pt, bluept] coordinates {(2.12,2.7)(2.07,2.64)};
\brk{2.9}{2.82}{**}{5}
\end{axis}
\begin{axis}[fc, strip={72.8pt}{10pt}, at={(416.3pt,-1209.4pt)}, width=72.8pt, height=121.7pt, ymin=0, ymax=3, ytick=\empty, xtick=\empty, title={\fontsize{3.3}{4}\selectfont Drug: sepantronium bromide\_1941}]
\brk{2.9}{2.82}{***}{5}
\end{axis}
\node[rotate=90, font=\fontsize{5}{6}\selectfont] at (320.3pt,-1071.7pt) {IC50};

\end{tikzpicture}
\end{document}
